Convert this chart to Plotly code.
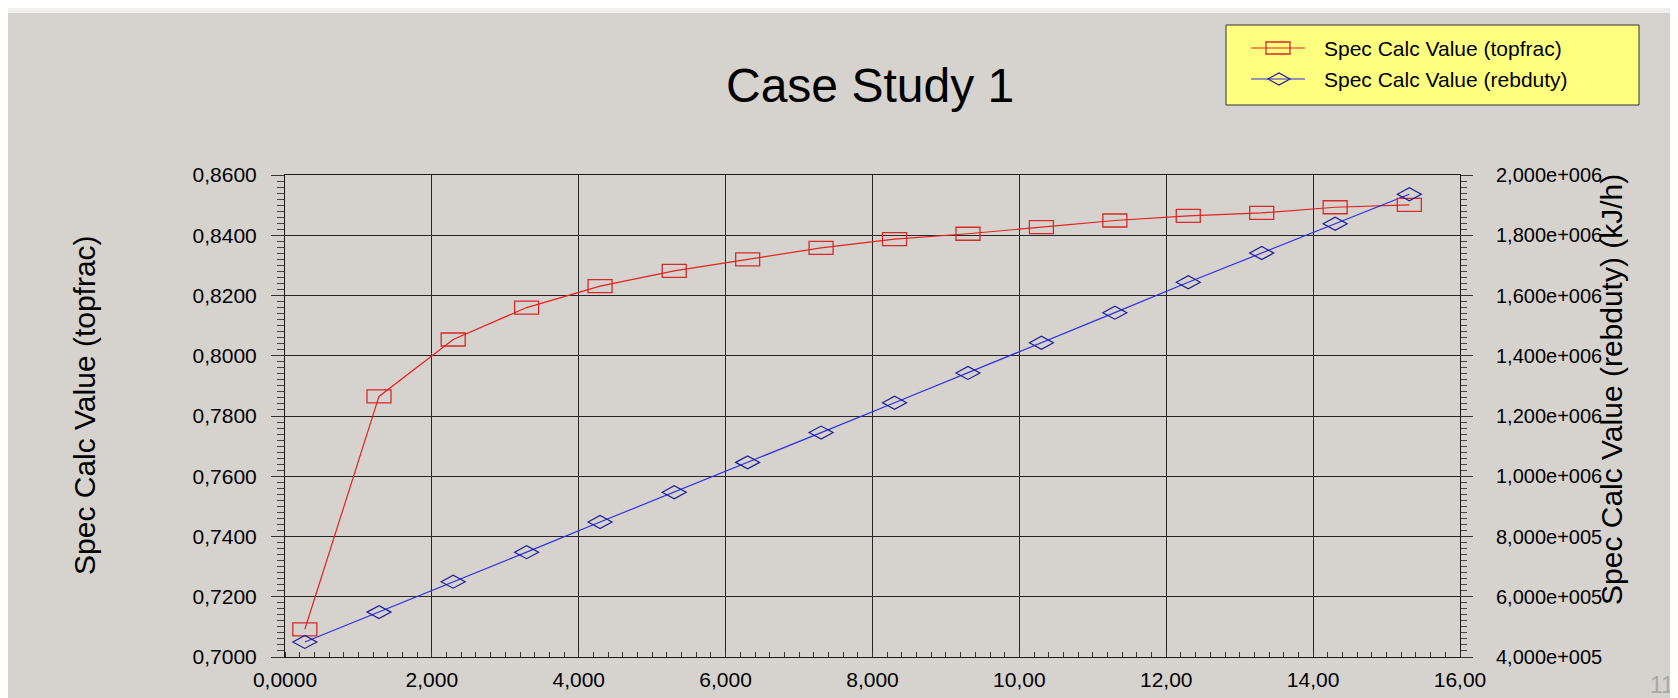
import plotly.graph_objects as go

# ---------------- data ----------------
x_vals = [0.27, 1.28, 2.29, 3.29, 4.29, 5.30, 6.30, 7.30, 8.30, 9.30, 10.30, 11.30, 12.30, 13.30, 14.30, 15.31]
topfrac = [0.7092, 0.7865, 0.8054, 0.8160, 0.8231, 0.8282, 0.8320, 0.8358, 0.8387, 0.8405,
           0.8427, 0.8449, 0.8464, 0.8474, 0.8493, 0.8501]
rebduty = [450e3, 549e3, 650e3, 748e3, 848e3, 947e3, 1046e3, 1145e3, 1244e3, 1343e3,
           1443e3, 1543e3, 1644e3, 1741e3, 1838e3, 1936e3]

x_tickvals = [0, 2, 4, 6, 8, 10, 12, 14, 16]
x_ticktext = ["0,0000", "2,000", "4,000", "6,000", "8,000", "10,00", "12,00", "14,00", "16,00"]
y_tickvals = [0.70, 0.72, 0.74, 0.76, 0.78, 0.80, 0.82, 0.84, 0.86]
y_ticktext = ["0,7000", "0,7200", "0,7400", "0,7600", "0,7800", "0,8000", "0,8200", "0,8400", "0,8600"]
y2_tickvals = [4e5, 6e5, 8e5, 1e6, 1.2e6, 1.4e6, 1.6e6, 1.8e6, 2e6]
y2_ticktext = ["4,000e+005", "6,000e+005", "8,000e+005", "1,000e+006", "1,200e+006",
               "1,400e+006", "1,600e+006", "1,800e+006", "2,000e+006"]

title_text = "Case Study 1"
y_title = "Spec Calc Value (topfrac)"
y2_title = "Spec Calc Value (rebduty) (kJ/h)"
legend_names = ["Spec Calc Value (topfrac)", "Spec Calc Value (rebduty)"]

# ---------------- layout geometry ----------------
W, H = 1678, 698
L, R, T, B = 277, 1452, 167, 649
PW, PH = R - L, B - T


def px(xp):
    return (xp - L) / PW


def py(yp):
    return (B - yp) / PH


BG = "#d6d3ce"
RED_LINE = "#e82020"
RED_MARK = "#d42a2a"
BLUE_LINE = "#2f2fe0"
BLUE_MARK = "#1c1c96"
GRID = "#262626"
FONT = "Arial, 'Liberation Sans', sans-serif"

fig = go.Figure()
fig.add_trace(go.Scatter(x=x_vals, y=topfrac, mode="lines", name=legend_names[0],
                         line=dict(color=RED_LINE, width=1.2), showlegend=False,
                         yaxis="y"))
fig.add_trace(go.Scatter(x=x_vals, y=rebduty, mode="lines", name=legend_names[1],
                         line=dict(color=BLUE_LINE, width=1.2), showlegend=False,
                         yaxis="y2"))

shapes = []
# top light strip
shapes.append(dict(type="rect", xref="paper", yref="paper", x0=px(0), x1=px(W),
                   y0=py(5), y1=py(0), fillcolor="#efefef", line=dict(width=0), layer="below"))

# markers (rectangles / flattened diamonds anchored at data values)
for xv, yv in zip(x_vals, topfrac):
    shapes.append(dict(type="rect", xref="x", yref="y", xsizemode="pixel", ysizemode="pixel",
                       xanchor=xv, yanchor=yv, x0=-12, x1=12, y0=-6.5, y1=6.5,
                       line=dict(color=RED_MARK, width=1.3), fillcolor="rgba(0,0,0,0)"))
for xv, yv in zip(x_vals, rebduty):
    shapes.append(dict(type="path", xref="x", yref="y2", xsizemode="pixel", ysizemode="pixel",
                       xanchor=xv, yanchor=yv, path="M-12,0L0,6.5L12,0L0,-6.5Z",
                       line=dict(color=BLUE_MARK, width=1.2), fillcolor="rgba(0,0,0,0)"))

# legend box
shapes.append(dict(type="rect", xref="paper", yref="paper", x0=px(1218), x1=px(1631),
                   y0=py(97), y1=py(17), fillcolor="#ffff80", line=dict(color="#333333", width=1)))
rows = [40, 71]
colors = [(RED_LINE, RED_MARK), (BLUE_LINE, BLUE_MARK)]
for i, yr in enumerate(rows):
    lc, mc = colors[i]
    shapes.append(dict(type="line", xref="paper", yref="paper", x0=px(1243), x1=px(1297),
                       y0=py(yr), y1=py(yr), line=dict(color=lc, width=1.2)))
    if i == 0:
        shapes.append(dict(type="rect", xref="paper", yref="paper", xsizemode="pixel",
                           ysizemode="pixel", xanchor=px(1270), yanchor=py(yr),
                           x0=-12, x1=12, y0=-6, y1=6, line=dict(color=mc, width=1.3),
                           fillcolor="rgba(0,0,0,0)"))
    else:
        shapes.append(dict(type="path", xref="paper", yref="paper", xsizemode="pixel",
                           ysizemode="pixel", xanchor=px(1271), yanchor=py(yr),
                           path="M-11,0L0,6L11,0L0,-6Z", line=dict(color=mc, width=1.2),
                           fillcolor="rgba(0,0,0,0)"))

annotations = []
for i, yr in enumerate(rows):
    annotations.append(dict(text=legend_names[i], xref="paper", yref="paper", x=px(1314),
                            y=py(yr), xanchor="left", yanchor="middle", showarrow=False,
                            font=dict(family=FONT, size=21, color="black")))
annotations.append(dict(text=title_text, xref="paper", yref="paper", x=px(862), y=py(77),
                        xanchor="center", yanchor="middle", showarrow=False,
                        font=dict(family=FONT, size=48, color="black")))
annotations.append(dict(text=y_title, xref="paper", yref="paper", x=px(76), y=py(397),
                        xanchor="center", yanchor="middle", textangle=-90, showarrow=False,
                        font=dict(family=FONT, size=30, color="black")))
annotations.append(dict(text=y2_title, xref="paper", yref="paper", x=px(1603), y=py(381),
                        xanchor="center", yanchor="middle", textangle=-90, showarrow=False,
                        font=dict(family=FONT, size=30, color="black")))
annotations.append(dict(text="11", xref="paper", yref="paper", x=px(1654), y=py(677),
                        xanchor="center", yanchor="middle", showarrow=False,
                        font=dict(family=FONT, size=23, color="#a8a8a8")))

fig.update_layout(
    width=W, height=H,
    margin=dict(l=L, r=W - R, t=T, b=H - B, autoexpand=False),
    paper_bgcolor=BG, plot_bgcolor=BG,
    font=dict(family=FONT, size=21, color="black"),
    showlegend=False,
    shapes=shapes,
    annotations=annotations,
    xaxis=dict(range=[0, 16], tickvals=x_tickvals, ticktext=x_ticktext,
               showgrid=True, gridcolor=GRID, gridwidth=1,
               showline=True, linecolor="#1a1a1a", linewidth=1, mirror=True,
               ticks="", zeroline=False, ticklabelstandoff=4,
               tickfont=dict(size=21, color="black"),
               minor=dict(dtick=0.2, tick0=0, ticks="inside", ticklen=5,
                          tickcolor="#333333", showgrid=False)),
    yaxis=dict(range=[0.70, 0.86], tickvals=y_tickvals, ticktext=y_ticktext,
               showgrid=True, gridcolor=GRID, gridwidth=1,
               showline=True, linecolor="#1a1a1a", linewidth=1,
               ticks="outside", ticklen=13, tickcolor="#333333", zeroline=False,
               ticklabelstandoff=10, tickfont=dict(size=21, color="black"),
               minor=dict(dtick=0.002, tick0=0.70, ticks="outside", ticklen=7,
                          tickcolor="#444444", showgrid=False)),
    yaxis2=dict(range=[4e5, 2e6], tickvals=y2_tickvals, ticktext=y2_ticktext,
                overlaying="y", side="right", showgrid=False,
                showline=True, linecolor="#1a1a1a", linewidth=1,
                ticks="outside", ticklen=12, tickcolor="#333333", zeroline=False,
                ticklabelstandoff=19, tickfont=dict(size=20, color="black"),
                minor=dict(dtick=2e4, tick0=4e5, ticks="outside", ticklen=6,
                           tickcolor="#444444", showgrid=False)),
)

fig.write_html("out.html")
